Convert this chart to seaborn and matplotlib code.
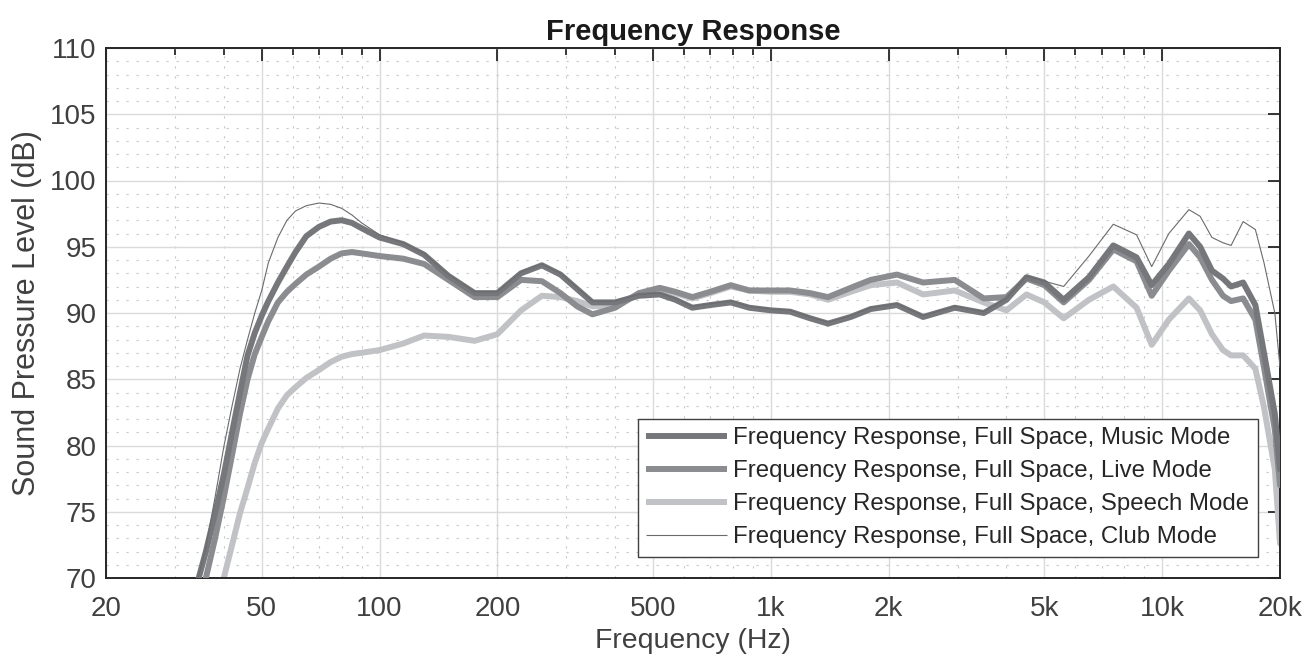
import matplotlib
matplotlib.use("Agg")
import numpy as np
import matplotlib.pyplot as plt
import seaborn as sns
from matplotlib.ticker import FixedLocator, MultipleLocator, NullFormatter

# frequency grid (Hz) shared by all curves
freq_hz = [34, 36, 38, 40, 42, 44, 46, 48, 50, 52, 55, 58, 61, 65, 70, 75, 80, 85, 90, 100,
           115, 130, 150, 175, 200, 230, 260, 290, 320, 350,
           400, 460, 520, 570, 630, 700, 790, 880, 1000, 1120,
           1260, 1400, 1600, 1800, 2100, 2450, 2950, 3500, 4000, 4500,
           5000, 5600, 6500, 7500,
           8600, 9400, 10400, 11700, 12500, 13400, 14300, 15000, 16100, 17300, 18200, 19400, 20000]

music_db = [69.3, 72.0, 74.9, 77.8, 81.0, 84.0, 86.8, 88.5, 89.8, 90.9, 92.3, 93.5, 94.6, 95.8, 96.5, 96.9, 97.0, 96.8, 96.4, 95.7,
            95.2, 94.4, 92.8, 91.5, 91.5, 93.0, 93.6, 92.9, 91.8, 90.8,
            90.8, 91.3, 91.4, 91.0, 90.4, 90.6, 90.8, 90.4, 90.2, 90.1,
            89.6, 89.2, 89.7, 90.3, 90.6, 89.7, 90.4, 90.0, 91.0, 92.7,
            92.3, 91.0, 92.7, 95.1,
            94.2, 92.1, 93.7, 96.0, 95.0, 93.2, 92.6, 92.0, 92.3, 90.6, 87.0, 82.4, 78.2]

live_db = [67.5, 70.0, 73.0, 76.1, 79.3, 82.4, 85.0, 86.9, 88.2, 89.4, 90.8, 91.6, 92.2, 92.9, 93.5, 94.1, 94.5, 94.6, 94.5, 94.3,
           94.1, 93.7, 92.5, 91.2, 91.2, 92.5, 92.4, 91.5, 90.5, 89.9,
           90.4, 91.5, 91.9, 91.6, 91.2, 91.6, 92.1, 91.7, 91.7, 91.7,
           91.5, 91.2, 91.9, 92.5, 92.9, 92.3, 92.5, 91.1, 91.2, 92.6,
           92.1, 90.8, 92.5, 94.8,
           93.9, 91.3, 93.2, 95.2, 94.2, 92.5, 91.3, 90.9, 91.1, 89.5, 85.9, 81.2, 77.0]

speech_db = [np.nan, np.nan, 67.3, 70.0, 72.5, 74.9, 76.8, 78.7, 80.2, 81.3, 82.8, 83.8, 84.4, 85.1, 85.7, 86.3, 86.7, 86.9, 87.0, 87.2,
             87.7, 88.3, 88.2, 87.9, 88.4, 90.2, 91.3, 91.2, 90.9, 90.5,
             90.6, 91.4, 91.8, 91.5, 91.1, 91.5, 92.0, 91.7, 91.6, 91.6,
             91.4, 91.0, 91.6, 92.1, 92.3, 91.4, 91.7, 90.8, 90.2, 91.4,
             90.8, 89.6, 91.0, 92.0,
             90.4, 87.6, 89.5, 91.1, 90.2, 88.4, 87.2, 86.8, 86.8, 85.8, 82.9, 78.2, 72.6]

club_db = [69.5, 72.3, 76.1, 79.9, 83.0, 85.8, 88.0, 90.0, 91.7, 93.8, 95.7, 97.0, 97.7, 98.1, 98.3, 98.2, 97.9, 97.4, 96.8, 95.9,
           95.3, 94.5, 92.9, 91.6, 91.6, 93.1, 93.7, 93.0, 91.9, 90.9,
           90.9, 91.4, 91.5, 91.1, 90.5, 90.7, 90.9, 90.5, 90.3, 90.2,
           89.7, 89.3, 89.8, 90.4, 90.7, 89.8, 90.5, 90.1, 91.1, 92.8,
           92.4, 92.0, 94.3, 96.7,
           95.9, 93.5, 96.0, 97.8, 97.3, 95.7, 95.3, 95.1, 96.9, 96.3, 93.8, 90.0, 85.9]

series_names = ["Frequency Response, Full Space, Music Mode",
                "Frequency Response, Full Space, Live Mode",
                "Frequency Response, Full Space, Speech Mode",
                "Frequency Response, Full Space, Club Mode"]

x_ticks = [20, 50, 100, 200, 500, 1000, 2000, 5000, 10000, 20000]
x_tick_labels = ["20", "50", "100", "200", "500", "1k", "2k", "5k", "10k", "20k"]
x_minor = [30, 40, 60, 70, 80, 90, 300, 400, 600, 700, 800, 900,
           3000, 4000, 6000, 7000, 8000, 9000]


def main():
    sns.set_theme(style="white")
    plt.rcParams['font.family'] = ['Liberation Sans', 'DejaVu Sans']

    fig, ax = plt.subplots(figsize=(13.04, 6.61), dpi=100)
    fig.subplots_adjust(left=106/1304, right=1280/1304, bottom=83/661, top=613/661)

    styles = [("#76777a", 4.3, 4), ("#8b8c8f", 4.3, 3), ("#c1c2c5", 4.3, 2), ("#6a6b6e", 0.8, 5)]
    for name, vals, (col, lw, z) in zip(series_names, [music_db, live_db, speech_db, club_db], styles):
        sns.lineplot(x=freq_hz, y=vals, ax=ax, color=col, linewidth=lw, label=name,
                     zorder=z, solid_capstyle='round', solid_joinstyle='round')

    ax.set_xscale('log')
    ax.set_xlim(20, 20000)
    ax.set_ylim(70, 110)
    ax.xaxis.set_major_locator(FixedLocator(x_ticks))
    ax.set_xticklabels(x_tick_labels)
    ax.xaxis.set_minor_locator(FixedLocator(x_minor))
    ax.xaxis.set_minor_formatter(NullFormatter())
    ax.yaxis.set_major_locator(MultipleLocator(5))
    ax.yaxis.set_minor_locator(MultipleLocator(1))

    ax.grid(which='major', color='#dadada', linewidth=1.0, linestyle='-')
    ax.grid(which='minor', color='#c8c8c8', linewidth=0.8, linestyle=(0, (2, 7)))
    ax.set_axisbelow(True)

    ax.tick_params(which='both', direction='in', top=True, right=True,
                   colors='#262626', labelcolor='#404040', labelsize=20, width=1.3)
    ax.tick_params(which='major', length=9)
    ax.tick_params(axis='x', which='minor', length=5)
    ax.tick_params(axis='y', which='minor', length=0)
    ax.tick_params(axis='x', which='major', pad=13)
    ax.tick_params(axis='y', which='major', pad=7)
    for sp in ax.spines.values():
        sp.set_color('#262626')
        sp.set_linewidth(1.4)

    ax.set_title("Frequency Response", fontsize=21, fontweight='bold', color='#1a1a1a',
                 y=1.0142, va='center')
    ax.set_xlabel("Frequency (Hz)", fontsize=20.4, color='#404040', va='center')
    ax.set_ylabel("Sound Pressure Level (dB)", fontsize=22, color='#404040', va='center')
    ax.xaxis.set_label_coords(0.5, -0.119)
    ax.yaxis.set_label_coords(-0.0673, 0.5)

    leg = ax.legend(loc='lower right', bbox_to_anchor=(0.9813, 0.0396), frameon=True, fancybox=False,
                    edgecolor='#404040', framealpha=1, fontsize=17.3, handlelength=3.375,
                    borderpad=0.36, labelspacing=0.46, handletextpad=0.25, borderaxespad=0)
    leg.get_frame().set_linewidth(1.0)
    for h in leg.get_lines():
        h.set_solid_capstyle('butt')

    fig.savefig("out.png", dpi=100)


if __name__ == "__main__":
    main()
